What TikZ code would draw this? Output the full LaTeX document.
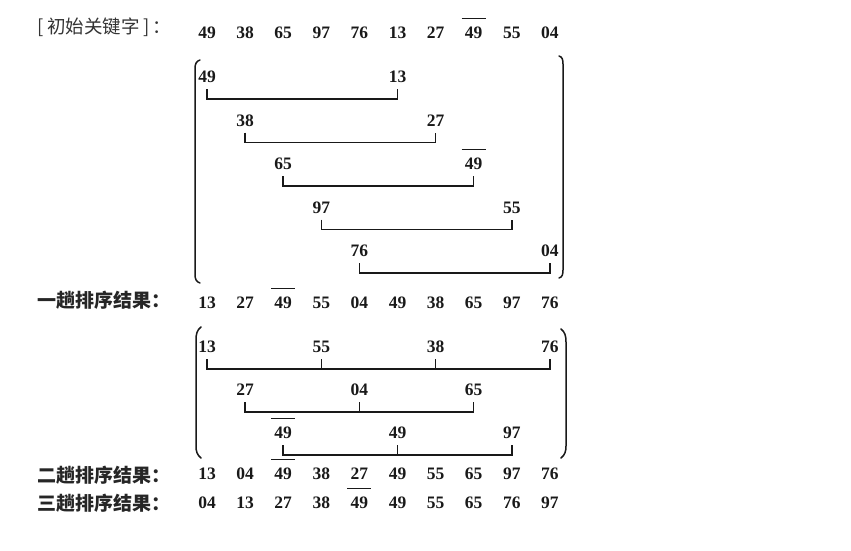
\documentclass[tikz,border=0pt]{standalone}
\usepackage{fontspec}
\newfontfamily\numfont{Liberation Serif}
\newfontfamily\cjk{Noto Sans CJK SC}
\usetikzlibrary{calc}
\begin{document}
\begin{tikzpicture}[x=1pt,y=-1pt,
  num/.style={font=\numfont\bfseries\fontsize{17.5}{19}\selectfont, text=black!90,
              inner xsep=0pt, inner ysep=6pt, text height=11.8pt, text depth=0pt},
  bar/.style={draw=black!90, line width=1.4pt},
  barred/.style={append after command={
      ([shift={(-12pt,14.5pt)}]\tikzlastnode.center) edge[bar] ([shift={(12pt,14.5pt)}]\tikzlastnode.center)}},
  link/.style={draw=black!90, line width=1.5pt},
  brk/.style={draw=black!90, line width=1.5pt, line cap=round},
  lab/.style={font=\cjk\bfseries\fontsize{19}{21}\selectfont, text=black!85, anchor=west, inner sep=0pt}]
\useasboundingbox (0,0) rectangle (851,550);

% left labels
\node[lab, font=\cjk\fontsize{18.5}{21}\selectfont, text=black!80] (l0) at (37,27)
  {[\hspace{4pt}初始关键字\hspace{4pt}]\hspace{2pt}：};
\node[lab] (l1) at (37,300) {一趟排序结果：};
\node[lab] (l2) at (37,475) {二趟排序结果：};
\node[lab] (l3) at (37,503) {三趟排序结果：};

% initial keys
\foreach \v/\s [count=\i from 0] in {49/,38/,65/,97/,76/,13/,27/,49/barred,55/,04/}
  \node[num,\s] (init\i) at ({207+38.1*\i},33) {\v};

% first pass groups (d = 5)
\foreach \a/\b/\s [count=\i from 0] in {49/13/,38/27/,65/49/barred,97/55/,76/04/}{
  \node[num] (ta\i) at ({207+38.1*\i},{77+43.5*\i}) {\a};
  \node[num,\s] (tb\i) at ({207+38.1*(\i+5)},{77+43.5*\i}) {\b};
  \draw[link] (ta\i.south) -- ++(0,10) -| (tb\i.south);
}
\draw[brk] (200,60) .. controls (196.5,61) and (195,64) .. (195,68) -- (195,275)
  .. controls (195,279) and (196.5,282) .. (200,283);
\draw[brk] (559,56) .. controls (562.5,57) and (563,60) .. (563,64) -- (563,270)
  .. controls (563,274) and (562.5,277) .. (559,278);

% result of pass one
\foreach \v/\s [count=\i from 0] in {13/,27/,49/barred,55/,04/,49/,38/,65/,97/,76/}
  \node[num,\s] (one\i) at ({207+38.1*\i},303) {\v};

% second pass groups (d = 3)
\foreach \v/\c [count=\k] in {13/0,55/3,38/6,76/9}
  \node[num] (pa\k) at ({207+38.1*\c},347) {\v};
\draw[link] (pa1.south) -- ++(0,10) coordinate (pah) -| (pa4.south);
\foreach \k in {2,3} \draw[link] (pa\k.south) -- (pa\k.south |- pah);

\foreach \v/\c [count=\k] in {27/1,04/4,65/7}
  \node[num] (pb\k) at ({207+38.1*\c},390) {\v};
\draw[link] (pb1.south) -- ++(0,10) coordinate (pbh) -| (pb3.south);
\draw[link] (pb2.south) -- (pb2.south |- pbh);

\node[num,barred] (pc1) at ({207+38.1*2},433) {49};
\node[num] (pc2) at ({207+38.1*5},433) {49};
\node[num] (pc3) at ({207+38.1*8},433) {97};
\draw[link] (pc1.south) -- ++(0,10) coordinate (pch) -| (pc3.south);
\draw[link] (pc2.south) -- (pc2.south |- pch);

\draw[brk] (201,327) .. controls (197,330) and (196,334) .. (196,340) -- (196,446)
  .. controls (196,451) and (197,455) .. (201,458);
\draw[brk] (561,329) .. controls (565,332) and (566,336) .. (566,342) -- (566,446)
  .. controls (566,451) and (565,455) .. (561,458);

% results of passes two and three
\foreach \v/\s [count=\i from 0] in {13/,04/,49/barred,38/,27/,49/,55/,65/,97/,76/}
  \node[num,\s] (two\i) at ({207+38.1*\i},474) {\v};
\foreach \v/\s [count=\i from 0] in {04/,13/,27/,38/,49/barred,49/,55/,65/,76/,97/}
  \node[num,\s] (three\i) at ({207+38.1*\i},503) {\v};
\end{tikzpicture}
\end{document}
